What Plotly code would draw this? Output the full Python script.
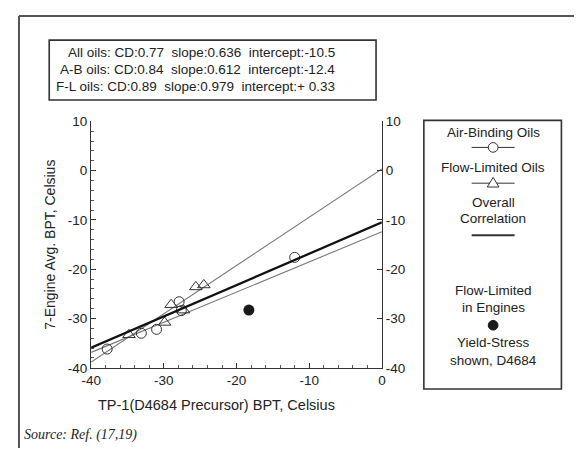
import plotly.graph_objects as go

# The page body adds an 8px margin, so the figure is sized/offset to fit the 582x456 window
OFF = 8
W, H = 582 - OFF, 456 - OFF

# ---- data ----
ab_x = [-37.8, -33.1, -31.0, -27.9, -27.6, -12.0]
ab_y = [-36.2, -33.0, -32.2, -26.6, -28.4, -17.6]
fl_x = [-34.8, -29.9, -29.0, -27.3, -25.6, -24.5]
fl_y = [-33.3, -30.8, -27.2, -28.3, -23.6, -23.2]
ys_x = [-18.3]
ys_y = [-28.3]

fit_names = ["All oils", "A-B oils", "F-L oils"]
fit_cd = [0.77, 0.84, 0.89]
fit_slope = [0.636, 0.612, 0.979]
fit_intercept = [-10.5, -12.4, 0.33]
fit_intercept_txt = ["-10.5", "-12.4", "+ 0.33"]
x_span = [-40, 0]

x_ticks = [-40, -30, -20, -10, 0]
x_tick_labels = ["-40", "-30", "-20", "-10", "0"]
y_ticks = [10, 0, -10, -20, -30, -40]
y_tick_labels = ["10", "0", "-10", "-20", "-30", "-40"]

# ---- geometry helpers (window pixel -> paper) ----
PL, PR, PT, PB = 83, 381, 118, 373
def px(x):
    return (x - OFF) / W
def py(y):
    return 1 - (y - OFF) / H

INK = "#222222"
FONT = "Liberation Sans, Arial, sans-serif"

fig = go.Figure()

# regression lines
line_styles = [dict(color="#111111", width=2.3), dict(color="#777777", width=1.1), dict(color="#777777", width=1.1)]
for i in [1, 2, 0]:
    fig.add_trace(go.Scatter(
        x=x_span, y=[fit_slope[i] * v + fit_intercept[i] for v in x_span],
        mode="lines", line=line_styles[i], yaxis="y2" if i == 0 else "y",
        showlegend=False, hoverinfo="skip"))

fig.add_trace(go.Scatter(x=ab_x, y=ab_y, mode="markers", showlegend=False,
    marker=dict(symbol="circle-open", size=10, color="#333333", line=dict(width=1))))
fig.add_trace(go.Scatter(x=fl_x, y=fl_y, mode="markers", showlegend=False,
    marker=dict(symbol="triangle-up-open", size=11, color="#333333", line=dict(width=1))))
fig.add_trace(go.Scatter(x=ys_x, y=ys_y, mode="markers", showlegend=False,
    marker=dict(symbol="circle", size=11, color="#1a1a1a")))

axis_common = dict(
    showgrid=False, zeroline=False, showline=True, linecolor="#333333", linewidth=1.4,
    ticks="inside", ticklen=5, tickcolor="#333333", tickwidth=1,
    tickfont=dict(family=FONT, size=13.5, color=INK),
)

fig.update_layout(
    width=W, height=H,
    margin=dict(l=0, r=0, t=0, b=0),
    paper_bgcolor="white", plot_bgcolor="white",
    xaxis=dict(domain=[px(PL), px(PR)], range=[-40, 0], tickvals=x_ticks, ticktext=x_tick_labels,
               minor=dict(ticks="inside", ticklen=3, dtick=2, tickcolor="#555555"),
               anchor="y", **axis_common),
    yaxis=dict(domain=[py(PB), py(PT)], range=[-40, 10], tickvals=y_ticks, ticktext=y_tick_labels,
               minor=dict(ticks="inside", ticklen=3, dtick=2, tickcolor="#555555"),
               anchor="x", **axis_common),
    yaxis2=dict(overlaying="y", side="right", anchor="x", range=[-40, 10],
                tickvals=y_ticks, ticktext=y_tick_labels, **axis_common),
)

shapes = []
annotations = []

# outer frame (top + left)
shapes.append(dict(type="line", xref="paper", yref="paper", x0=px(9), x1=1, y0=py(9), y1=py(9),
                   line=dict(color="#555555", width=2)))
shapes.append(dict(type="line", xref="paper", yref="paper", x0=px(9), x1=px(9), y0=py(9), y1=0,
                   line=dict(color="#555555", width=2)))

# stats box
shapes.append(dict(type="rect", xref="paper", yref="paper", x0=px(40), x1=px(375), y0=py(96), y1=py(34),
                   line=dict(color="#333333", width=1.6)))
NB = "\u00a0"
for i, yy in enumerate([47, 64.5, 82]):
    txt = (f"{fit_names[i]}: CD:{fit_cd[i]:.2f}{NB*2}slope:{fit_slope[i]:.3f}{NB*2}"
           f"intercept:{fit_intercept_txt[i]}")
    annotations.append(dict(text=txt, xref="paper", yref="paper", x=px(335), y=py(yy),
                            xanchor="right", yanchor="middle", showarrow=False,
                            font=dict(family=FONT, size=13.5, color=INK)))

# axis titles
annotations.append(dict(text="TP-1(D4684 Precursor) BPT, Celsius", xref="paper", yref="paper",
                        x=px(211), y=py(412), xanchor="center", yanchor="middle", showarrow=False,
                        font=dict(family=FONT, size=14.5, color=INK)))
annotations.append(dict(text="7-Engine Avg. BPT, Celsius", xref="paper", yref="paper",
                        x=px(40), y=py((PT + PB) / 2), xanchor="center", yanchor="middle",
                        textangle=-90, showarrow=False,
                        font=dict(family=FONT, size=14, color=INK)))
annotations.append(dict(text="<i>Source: Ref. (17,19)</i>", xref="paper", yref="paper",
                        x=px(12), y=py(443), xanchor="left", yanchor="middle", showarrow=False,
                        font=dict(family="Liberation Serif, Times New Roman, serif", size=14, color=INK)))

# legend box
shapes.append(dict(type="rect", xref="paper", yref="paper", x0=px(424), x1=px(565), y0=py(395), y1=py(117),
                   line=dict(color="#333333", width=1.6)))
LC = 495
leg_texts = [("Air-Binding Oils", 130), ("Flow-Limited Oils", 166), ("Overall", 202), ("Correlation", 219),
             ("Flow-Limited", 293), ("in Engines", 311), ("Yield-Stress", 347), ("shown, D4684", 365)]
for t, yy in leg_texts:
    annotations.append(dict(text=t, xref="paper", yref="paper", x=px(LC), y=py(yy), xanchor="center",
                            yanchor="middle", showarrow=False, font=dict(family=FONT, size=13.5, color=INK)))
# legend symbols
for yy, w in [(145, 1), (182, 1), (236, 2)]:
    shapes.append(dict(type="line", xref="paper", yref="paper", x0=px(LC - 22), x1=px(LC + 22),
                       y0=py(yy), y1=py(yy), line=dict(color="#333333", width=w)))
r = 5
shapes.append(dict(type="circle", xref="paper", yref="paper", x0=px(LC - r), x1=px(LC + r),
                   y0=py(145 + r), y1=py(145 - r), fillcolor="white", line=dict(color="#333333", width=1)))
tri = f"M {px(LC-6)} {py(186)} L {px(LC+6)} {py(186)} L {px(LC)} {py(176)} Z"
shapes.append(dict(type="path", xref="paper", yref="paper", path=tri, fillcolor="white",
                   line=dict(color="#333333", width=1)))
r2 = 5
shapes.append(dict(type="circle", xref="paper", yref="paper", x0=px(LC - r2), x1=px(LC + r2),
                   y0=py(329 + r2), y1=py(329 - r2), fillcolor="#1a1a1a", line=dict(color="#1a1a1a", width=1)))

fig.update_layout(shapes=shapes, annotations=annotations)
fig.write_html("out.html")
